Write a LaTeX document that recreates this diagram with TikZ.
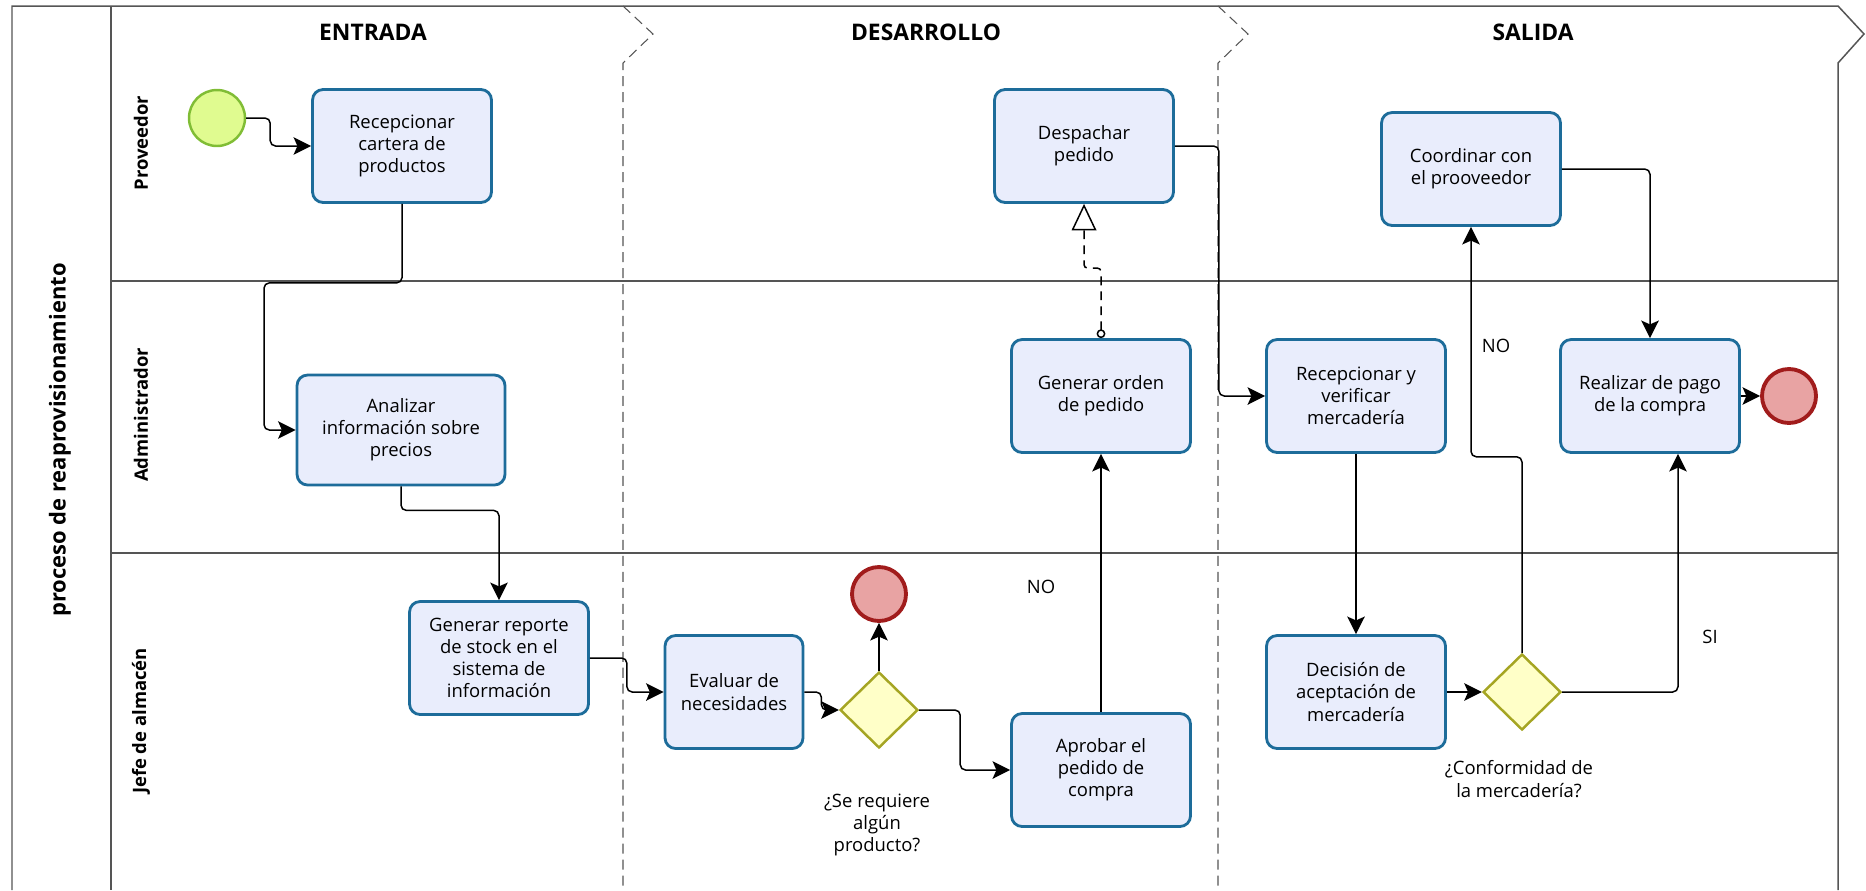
\documentclass[tikz,border=0pt]{standalone}
\usepackage{fontspec}
\setmainfont{Open Sans}
\usepackage{tikz}
\usetikzlibrary{arrows.meta,shapes.geometric,calc}
\definecolor{bpmblue}{HTML}{1D6C9A}
\definecolor{bpmfill}{HTML}{E9EDFC}
\definecolor{bpmolive}{HTML}{A5A523}
\definecolor{bpmyellow}{HTML}{FFFFC8}
\definecolor{bpmred}{HTML}{A11C1C}
\definecolor{bpmpink}{HTML}{E8A3A3}
\definecolor{bpmgreen}{HTML}{80BD35}
\definecolor{bpmlime}{HTML}{E0FB90}
\definecolor{bpmgray}{HTML}{555555}
\newcommand{\bpmtext}{\fontsize{10.5}{12.6}\selectfont}
\newcommand{\bpmhead}{\fontsize{13}{15}\selectfont\bfseries}
\newcommand{\bpmlane}{\fontsize{10.5}{12}\selectfont\bfseries}
\tikzset{
  task/.style={rounded corners=6pt,draw=bpmblue,fill=bpmfill,line width=1.6pt,align=center,inner sep=2pt,minimum width=3.58cm,minimum height=2.26cm},
  gate/.style={diamond,draw=bpmolive,fill=bpmyellow,line width=1.4pt,inner sep=0pt,minimum width=1.56cm,minimum height=1.52cm},
  startev/.style={circle,draw=bpmgreen,fill=bpmlime,line width=1.4pt,inner sep=0pt,minimum size=1.12cm},
  endev/.style={circle,draw=bpmred,fill=bpmpink,line width=2.2pt,inner sep=0pt,minimum size=1.08cm},
  lane/.style={draw=bpmgray,line width=0.85pt},
  phase/.style={draw=bpmgray,line width=0.6pt,dash pattern=on 5.7pt off 3.4pt},
  ar/.style={-{Stealth[length=10pt,width=10pt,inset=2.2pt]},draw=black,line width=0.85pt,rounded corners=3pt},
  msg/.style={{Circle[open,length=5pt]}-{Triangle[open,length=15pt,width=14pt]},draw=black,line width=0.85pt,dash pattern=on 5pt off 3.5pt,rounded corners=2pt},
  lbl/.style={align=center},
}
\begin{document}
\begin{tikzpicture}[x=0.02cm,y=-0.02cm,every node/.style={font=\bpmtext}]
  \useasboundingbox (0,0) rectangle (1866,890);
  % pool, lanes and phases
  \draw[lane] (12,890) -- (12,6) -- (1838,6) -- (1864,34) -- (1838,63) -- (1838,890);
  \draw[lane] (111,6) -- (111,890);
  \draw[lane] (111,281) -- (1838,281);
  \draw[lane] (111,553) -- (1838,553);
  \draw[phase] (623,6) -- (653,34) -- (623,63) -- (623,890);
  \draw[phase] (1218,6) -- (1248,34) -- (1218,63) -- (1218,890);
  \node[rotate=90,font=\fontsize{12.5}{14}\selectfont\bfseries] (pool) at (60,440) {proceso de reaprovisionamiento};
  \node[rotate=90,font=\bpmlane] (lprov) at (141,143) {Proveedor};
  \node[rotate=90,font=\bpmlane] (ladmin) at (141,415) {Administrador};
  \node[rotate=90,font=\bpmlane] (ljefe) at (141,721) {Jefe de almacén};
  \node[font=\bpmhead] (hentr) at (373,32) {ENTRADA};
  \node[font=\bpmhead] (hdes) at (926,32) {DESARROLLO};
  \node[font=\bpmhead] (hsal) at (1533,32) {SALIDA};

  % events, tasks and gateways
  \node[startev] (inicio) at (217,118) {};
  \node[task] (recep) at (402,146) {Recepcionar\\cartera de\\productos};
  \node[task,minimum width=4.16cm,minimum height=2.2cm] (analiz) at (401,430) {Analizar\\información sobre\\precios};
  \node[task] (reporte) at (499,658) {Generar reporte\\de stock en el\\sistema de\\información};
  \node[task,minimum width=2.76cm] (evalua) at (734,692) {Evaluar de\\necesidades};
  \node[gate] (gw1) at (879,710) {};
  \node[endev] (fin1) at (879,594) {};
  \node[task] (aprob) at (1101,770) {Aprobar el\\pedido de\\compra};
  \node[task] (orden) at (1101,396) {Generar orden\\de pedido};
  \node[task] (despa) at (1084,146) {Despachar\\pedido};
  \node[task] (recver) at (1356,396) {Recepcionar y\\verificar\\mercadería};
  \node[task] (decis) at (1356,692) {Decisión de\\aceptación de\\mercadería};
  \node[gate] (gw2) at (1522,692) {};
  \node[task] (coord) at (1471,169) {Coordinar con\\el prooveedor};
  \node[task] (pago) at (1650,396) {Realizar de pago\\de la compra};
  \node[endev] (fin2) at (1789,396) {};

  \node[lbl] (q1) at (877,825) {¿Se requiere\\algún\\producto?};
  \node[lbl] (q2) at (1519,779) {¿Conformidad de\\la mercadería?};
  \node (no1) at (1041,587) {NO};
  \node (no2) at (1496,346) {NO};
  \node (si) at (1710,637) {SI};

  % flows
  \draw[ar] (inicio.east) -- ++(24,0) |- (recep.west);
  \draw[ar] (recep.south) -- ++(0,79) -- ++(-138,0) |- (analiz.west);
  \draw[ar] (analiz.south) -- ++(0,24) -| (reporte.north);
  \draw[ar] (reporte.east) -- ++(37,0) |- (evalua.west);
  \draw[ar] (evalua.east) -- ++(17,0) |- (gw1.west);
  \draw[ar] (gw1.north) -- (fin1.south);
  \draw[ar] (gw1.east) -- ++(41,0) |- (aprob.west);
  \draw[ar] (aprob.north) -- (orden.south);
  \draw[msg] (orden.north) -- ++(0,-70) -| (despa.south);
  \draw[ar] (despa.east) -- ++(44,0) |- (recver.west);
  \draw[ar] (recver.south) -- (decis.north);
  \draw[ar] (decis.east) -- (gw2.west);
  \draw[ar] (gw2.north) -- ++(0,-196) -| (coord.south);
  \draw[ar] (gw2.east) -| ([xshift=0.56cm]pago.south);
  \draw[ar] (coord.east) -| (pago.north);
  \draw[ar] (pago.east) -- (fin2.west);
\end{tikzpicture}
\end{document}
